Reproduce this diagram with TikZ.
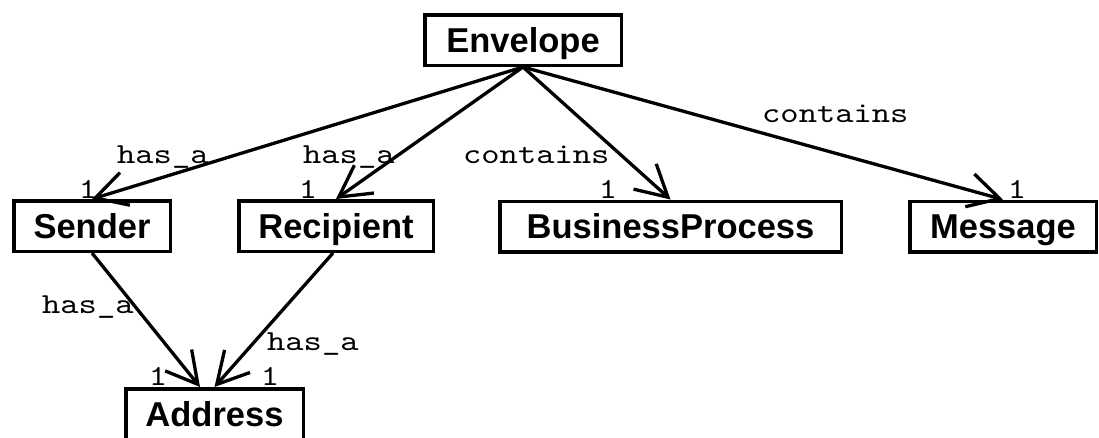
\documentclass[tikz,border=0pt]{standalone}
\usepackage{fontspec}
\newfontfamily\classfont{Liberation Sans}
\newfontfamily\rolefont{lmmono10-regular}[Extension=.otf, FakeStretch=1.2]
\usetikzlibrary{arrows.meta}
\begin{document}
\begin{tikzpicture}[x=1pt,y=-1pt,
  cls/.style={draw, line width=3.5pt, inner sep=0pt, minimum height=50.5pt,
    text height=24pt, text depth=0pt,
    font=\classfont\bfseries\fontsize{34.5}{34.5}\selectfont},
  rel/.style={line width=3.3pt, -{Straight Barb[length=31pt,width=34pt]}},
  role/.style={inner sep=0pt, font=\rolefont\fontsize{29}{29}\selectfont},
]
\useasboundingbox (0,0) rectangle (1099,437);

% classes
\node[cls, minimum width=196.5pt] (env) at (523,40)     {Envelope};
\node[cls, minimum width=156.5pt] (snd) at (92,226)     {Sender};
\node[cls, minimum width=194.5pt] (rcp) at (336,226)    {Recipient};
\node[cls, minimum width=341.5pt] (bp)  at (670.5,226.5) {BusinessProcess};
\node[cls, minimum width=186.5pt] (msg) at (1003,226.5) {Message};
\node[cls, minimum width=177.5pt] (adr) at (214.5,414)  {Address};

\coordinate (adrL) at ([xshift=-14.5pt]adr.north);

% associations
\draw[rel] (env.south) -- (snd.north);
\draw[rel] (env.south) -- (rcp.north);
\draw[rel] (env.south) -- (bp.north);
\draw[rel] (env.south) -- (msg.north);
\draw[rel] (snd.south) -- (adrL);
\draw[rel] ([xshift=-3pt]rcp.south) -- (adr.north);

% role names
\node[role, anchor=base west] (r1) at (117,163) {has\_a};
\node[role, anchor=base west] (r2) at (303,163) {has\_a};
\node[role, anchor=base west] (r3) at (463,163) {contains};
\node[role, anchor=base west] (r4) at (762,122) {contains};
\node[role, anchor=base west] (r5) at (42,313)  {has\_a};
\node[role, anchor=base west] (r6) at (267,350) {has\_a};

% multiplicities
\node[role, anchor=base] (m1) at (88,198)   {1};
\node[role, anchor=base] (m2) at (308,198)  {1};
\node[role, anchor=base] (m3) at (608,198)  {1};
\node[role, anchor=base] (m4) at (1017,198) {1};
\node[role, anchor=base] (m5) at (158,385)  {1};
\node[role, anchor=base] (m6) at (270,385)  {1};
\end{tikzpicture}
\end{document}
